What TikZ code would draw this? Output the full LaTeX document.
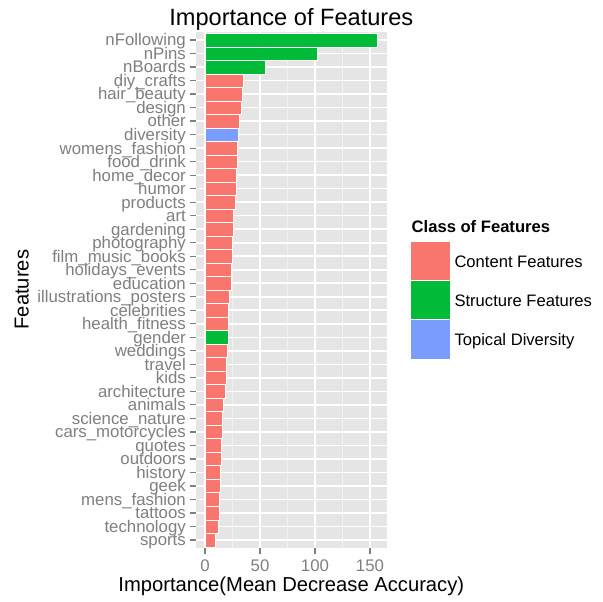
\documentclass[tikz,border=0pt]{standalone}
\usepackage{fontspec}
\setmainfont{Liberation Sans}
\definecolor{contentc}{HTML}{F8766D}
\definecolor{structc}{HTML}{00BA38}
\definecolor{topicc}{HTML}{7A9CFF}
\definecolor{axisgray}{HTML}{7F7F7F}
\definecolor{panelbg}{HTML}{E5E5E5}
\definecolor{minorgrid}{HTML}{F2F2F2}
\begin{document}
\begin{tikzpicture}[x=1bp,y=-1bp,
  ticklab/.style={text=axisgray,font=\fontsize{16.8bp}{18bp}\selectfont,inner sep=0pt},
  majorgrid/.style={white,line width=1.6bp},
  minorgridl/.style={minorgrid,line width=0.7bp},
  tickmark/.style={axisgray,line width=1.2bp},
  barbox/.style={draw=white,line width=0.5bp},
  legtext/.style={font=\fontsize{16.6bp}{18bp}\selectfont,inner sep=0pt,anchor=base west},
  axtitle/.style={font=\fontsize{20.2bp}{22bp}\selectfont,inner sep=0pt}]
\useasboundingbox[fill=white] (0,0) rectangle (603,602);
% panel
\fill[panelbg] (196,31.7) rectangle (386.7,547.7);
\foreach \gx in {232.5,287.5,342.5}{\draw[minorgridl] (\gx,31.7) -- (\gx,547.7);}
\foreach \i in {0,...,37}{\draw[majorgrid] (196,40+\i*13.514) -- (386.7,40+\i*13.514);}
\foreach \gx in {205,260,315,370}{\draw[majorgrid] (\gx,31.7) -- (\gx,547.7);}
% bars and labels
\foreach [count=\i from 0] \lab/\val/\col in {
 nFollowing/157/structc, nPins/101.8/structc, nBoards/55.2/structc,
 diy\_crafts/34.5/contentc, hair\_beauty/33.6/contentc, design/32.7/contentc,
 other/31.5/contentc, diversity/30.6/topicc, womens\_fashion/29.7/contentc,
 food\_drink/29.7/contentc, home\_decor/28.2/contentc, humor/28.2/contentc,
 products/27.3/contentc, art/26.1/contentc, gardening/26.1/contentc,
 photography/25.2/contentc, film\_music\_books/24.5/contentc,
 holidays\_events/23.6/contentc, education/23.6/contentc,
 illustrations\_posters/22.4/contentc, celebrities/21.5/contentc,
 health\_fitness/21.5/contentc, gender/21.5/structc, weddings/20.6/contentc,
 travel/19.7/contentc, kids/19.7/contentc, architecture/18.8/contentc,
 animals/17/contentc, science\_nature/16.1/contentc,
 cars\_motorcycles/16.1/contentc, quotes/15.2/contentc, outdoors/15.2/contentc,
 history/14.2/contentc, geek/14.2/contentc, mens\_fashion/13.3/contentc,
 tattoos/13.3/contentc, technology/12.4/contentc, sports/9.7/contentc}{
  \pgfmathsetmacro{\yc}{40+\i*13.514}
  \pgfmathsetmacro{\xe}{205+1.1*\val}
  \filldraw[barbox,fill=\col] (205,\yc-6.757) rectangle (\xe,\yc+6.757);
  \draw[tickmark] (190,\yc) -- (196,\yc);
  \node[ticklab,anchor=base east] (ylab\i) at (186,\yc+5.9) {\lab};
}
% x ticks
\foreach \v/\gx in {0/205,50/260,100/315,150/370}{
  \draw[tickmark] (\gx,547.7) -- (\gx,553.7);
  \node[ticklab,anchor=base] (xlab\v) at (\gx,571.5) {\v};
}
% titles
\node[font=\fontsize{23.6bp}{26bp}\selectfont,inner sep=0pt,anchor=base] (title) at (291.3,26) {Importance of Features};
\node[axtitle,anchor=base] (xtitle) at (291.3,591) {Importance(Mean Decrease Accuracy)};
\node[axtitle,anchor=base,rotate=90] (ytitle) at (28.5,289.7) {Features};
% legend
\node[legtext,font=\fontsize{16.6bp}{18bp}\selectfont\bfseries] (legtitle) at (411.5,232.7) {Class of Features};
\fill[contentc] (411,241.7) rectangle (450,280.7);
\fill[structc] (411,280.7) rectangle (450,319.5);
\fill[topicc] (411,319.5) rectangle (450,358.7);
\draw[white,line width=0.5bp] (411,280.7) -- (450,280.7) (411,319.5) -- (450,319.5);
\node[legtext] (leg1) at (454.3,267.3) {Content Features};
\node[legtext] (leg2) at (454.3,306.1) {Structure Features};
\node[legtext] (leg3) at (454.3,345) {Topical Diversity};
\end{tikzpicture}
\end{document}
